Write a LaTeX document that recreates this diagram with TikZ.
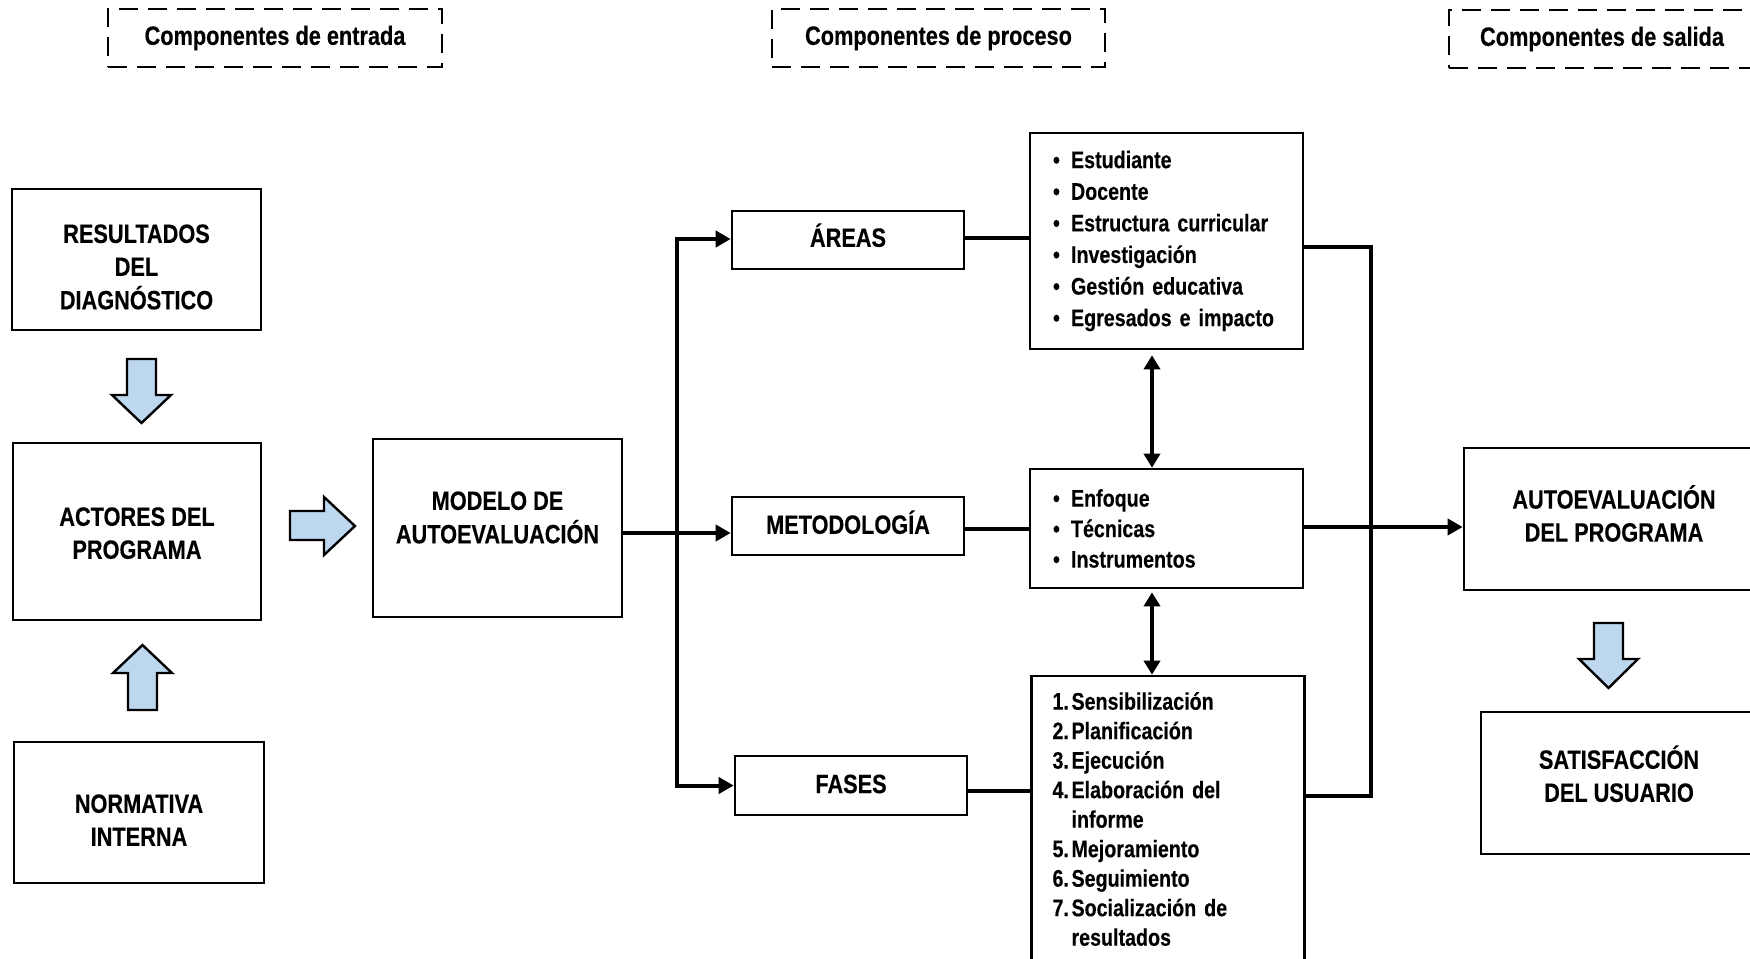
\documentclass[tikz,border=0pt]{standalone}
\usepackage{fontspec}
\setmainfont{Liberation Sans}[FakeStretch=0.82, FakeBold=0.3]
\usetikzlibrary{arrows.meta,calc}
\definecolor{arrowblue}{HTML}{BDD7EE}
\newcommand{\shifttext}[2]{\raisebox{#1}[\height][\depth]{\begin{tabular}{@{}c@{}}#2\end{tabular}}}
\begin{document}
\begin{tikzpicture}[x=1pt,y=-1pt,
  box/.style={draw, line width=2.6pt, inner sep=0pt, align=center, font=\fontsize{26.5}{33}\selectfont\bfseries},
  dashbox/.style={draw, line width=2.6pt, dash pattern=on 19pt off 10pt, inner sep=0pt, font=\fontsize{26.5}{33}\selectfont\bfseries},
  listbox/.style={draw, line width=2.6pt, inner ysep=0pt, inner xsep=18pt, align=left, text width=237pt, minimum width=273pt},
  conn/.style={line width=4pt},
  connarrow/.style={conn, -{Triangle[length=15pt,width=16pt]}},
  dblarrow/.style={conn, {Triangle[length=14pt,width=16pt]}-{Triangle[length=14pt,width=16pt]}},
  blockarrow/.style={draw, line width=2.4pt, fill=arrowblue, line join=miter},
]
\useasboundingbox (0,0) rectangle (1750,958);

% header dashed boxes
\node[dashbox, minimum width=334, minimum height=58] (entrada) at (275,38) {Componentes de entrada};
\node[dashbox, minimum width=333, minimum height=58] (proceso) at (938.5,38) {Componentes de proceso};
\node[dashbox, minimum width=306, minimum height=58] (salida) at (1602,39) {Componentes de salida};

% left column
\node[box, minimum width=249, minimum height=141] (res) at (136.5,259.5) {\shifttext{-10pt}{RESULTADOS\\DEL\\DIAGNÓSTICO}};
\node[box, minimum width=248, minimum height=177] (act) at (137,531.5) {\shifttext{-4.2pt}{ACTORES DEL\\PROGRAMA}};
\node[box, minimum width=250, minimum height=141] (norm) at (139,812.5) {\shifttext{-10.2pt}{NORMATIVA\\INTERNA}};

% model
\node[box, minimum width=249, minimum height=178] (modelo) at (497.5,528) {\shifttext{8pt}{MODELO DE\\AUTOEVALUACIÓN}};

% middle
\node[box, minimum width=232, minimum height=58] (areas) at (848,240) {\shifttext{0pt}{ÁREAS}};
\node[box, minimum width=232, minimum height=58] (metod) at (848,526) {\shifttext{-1pt}{METODOLOGÍA}};
\node[box, minimum width=232, minimum height=59] (fases) at (851,785.5) {\shifttext{-1pt}{FASES}};

% lists
\node[listbox, minimum height=216, font=\fontsize{24}{31.6}\selectfont\bfseries] (list1) at (1166.5,241) {%
\hspace*{5pt}\makebox[18pt][l]{\textbullet}Estudiante\\
\hspace*{5pt}\makebox[18pt][l]{\textbullet}Docente\\
\hspace*{5pt}\makebox[18pt][l]{\textbullet}Estructura curricular\\
\hspace*{5pt}\makebox[18pt][l]{\textbullet}Investigación\\
\hspace*{5pt}\makebox[18pt][l]{\textbullet}Gestión educativa\\
\hspace*{5pt}\makebox[18pt][l]{\textbullet}Egresados e impacto};
\node[listbox, minimum height=119, font=\fontsize{24}{30.5}\selectfont\bfseries] (list2) at (1166.5,528.5) {%
\hspace*{5pt}\makebox[18pt][l]{\textbullet}Enfoque\\
\hspace*{5pt}\makebox[18pt][l]{\textbullet}Técnicas\\
\hspace*{5pt}\makebox[18pt][l]{\textbullet}Instrumentos};
\node[listbox, minimum width=272, minimum height=286, font=\fontsize{24}{29.5}\selectfont\bfseries] (list3) at (1168,819) {%
\hspace*{3pt}\makebox[19pt][l]{1.}Sensibilización\\
\hspace*{3pt}\makebox[19pt][l]{2.}Planificación\\
\hspace*{3pt}\makebox[19pt][l]{3.}Ejecución\\
\hspace*{3pt}\makebox[19pt][l]{4.}Elaboración del\\
\hspace*{22pt}informe\\
\hspace*{3pt}\makebox[19pt][l]{5.}Mejoramiento\\
\hspace*{3pt}\makebox[19pt][l]{6.}Seguimiento\\
\hspace*{3pt}\makebox[19pt][l]{7.}Socialización de\\
\hspace*{22pt}resultados};

% output
\node[box, minimum width=300, minimum height=142] (autoeval) at (1614,519) {\shifttext{0.7pt}{AUTOEVALUACIÓN\\DEL PROGRAMA}};
\node[box, minimum width=276, minimum height=142] (satisf) at (1619,783) {\shifttext{4.5pt}{SATISFACCIÓN\\DEL USUARIO}};

% block arrows
\draw[blockarrow] (127,359) -- (156,359) -- (156,395) -- (171,395) -- (141.5,423) -- (112,395) -- (127,395) -- cycle;
\draw[blockarrow] (128,710) -- (157,710) -- (157,673) -- (172,673) -- (142.5,645) -- (113,673) -- (128,673) -- cycle;
\draw[blockarrow] (290,511) -- (324,511) -- (324,497) -- (355,526) -- (324,555) -- (324,540) -- (290,540) -- cycle;
\draw[blockarrow] (1594,623) -- (1623,623) -- (1623,659) -- (1638,659) -- (1608.5,688) -- (1579,659) -- (1594,659) -- cycle;

% connectors
\coordinate (tm) at (677,533);
\draw[connarrow] (modelo.east |- tm) -- (metod.west |- tm);
\draw[connarrow] (tm) |- ([yshift=1pt]areas.west);
\draw[connarrow] (tm) |- (fases.west);

\draw[conn] ([yshift=2pt]areas.east) -- ([yshift=2pt]areas.east -| list1.west);
\draw[conn] ([yshift=-3pt]metod.east) -- ([yshift=-3pt]metod.east -| list2.west);
\draw[conn] ([yshift=-5pt]fases.east) -- ([yshift=-5pt]fases.east -| list3.west);

\coordinate (c1) at (1371,247);
\coordinate (c2) at (1371,527);
\coordinate (c3) at (1371,796);
\draw[conn, line join=miter] (list1.east |- c1) -- (c1) -- (c3) -- (list3.east |- c3);
\draw[connarrow] (list2.east |- c2) -- (autoeval.west |- c2);

\coordinate (dx) at (1152,0);
\draw[dblarrow, shorten <=5pt] (list1.south -| dx) -- (list2.north -| dx);
\draw[dblarrow, shorten <=3pt] (list2.south -| dx) -- (list3.north -| dx);
\end{tikzpicture}
\end{document}
